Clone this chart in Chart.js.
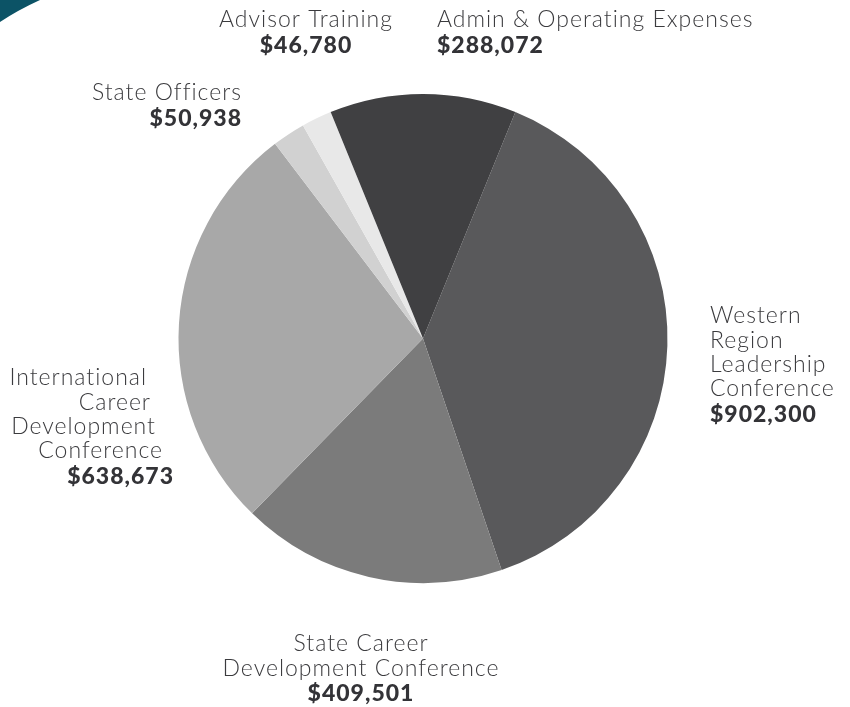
<!DOCTYPE html>
<html>
<head>
<meta charset="utf-8">
<script src="https://cdn.jsdelivr.net/npm/chart.js@4.4.1/dist/chart.umd.min.js"></script>
<style>
  html, body { margin: 0; padding: 0; background: #fff; }
  #wrap { width: 850px; height: 707px; position: relative; }
</style>
</head>
<body>
<div id="wrap"><canvas id="budgetChart" width="850" height="707"></canvas></div>
<script>
// 予算の内訳（時計回り、Western から）
const categories = [
  ['Western', 'Region', 'Leadership', 'Conference'],
  ['State Career', 'Development Conference'],
  ['International', 'Career', 'Development', 'Conference'],
  ['State Officers'],
  ['Advisor Training'],
  ['Admin & Operating Expenses']
];
const amounts = [902300, 409501, 638673, 50938, 46780, 288072];
const sliceColors = ['#59595b', '#7b7b7b', '#a8a8a8', '#d1d1d1', '#e8e8e8', '#404042'];

// ラベル位置 (x, 1行目のy, 揃え, 行ごとのxずれ)
const labelPos = [
  { x: 710, y: 316, align: 'left' },
  { x: 361, y: 644, align: 'center' },
  { x: 174, y: 378, align: 'right', shift: [-27, -23, -18, -11, 0] },
  { x: 242, y: 93, align: 'right' },
  { x: 306, y: 20, align: 'center' },
  { x: 437, y: 20, align: 'left' }
];

const lineH = 24.3;

const labelPlugin = {
  id: 'sliceLabels',
  afterDraw(chart) {
    const ctx = chart.ctx;
    ctx.save();
    ctx.textBaseline = 'middle';
    categories.forEach((lines, i) => {
      const p = labelPos[i];
      ctx.textAlign = p.align;
      let y = p.y;
      ctx.letterSpacing = '1px';
      lines.forEach((t, k) => {
        const dx = p.shift ? p.shift[k] : 0;
        ctx.font = '300 23px Lato';
        ctx.fillStyle = '#3b3b3e';
        ctx.fillText(t, p.x + dx, y);
        y += lineH;
      });
      const dx = p.shift ? p.shift[lines.length] : 0;
      ctx.font = '900 23px Lato';
      ctx.fillStyle = '#333337';
      ctx.fillText('$' + amounts[i].toLocaleString('en-US'), p.x + dx, y + 1);
    });
    ctx.restore();
  }
};

// 左上の青緑の飾り
const cornerPlugin = {
  id: 'corner',
  beforeDraw(chart) {
    const ctx = chart.ctx;
    ctx.save();
    ctx.fillStyle = '#0c5366';
    ctx.beginPath();
    ctx.moveTo(0, 0);
    ctx.lineTo(40, 0);
    ctx.quadraticCurveTo(18, 10, 0, 22);
    ctx.closePath();
    ctx.fill();
    ctx.restore();
  }
};

new Chart(document.getElementById('budgetChart').getContext('2d'), {
  type: 'pie',
  data: {
    labels: categories.map(c => c.join(' ')),
    datasets: [{
      data: amounts,
      backgroundColor: sliceColors,
      borderWidth: 0
    }]
  },
  options: {
    responsive: false,
    animation: false,
    rotation: 22.2,
    layout: { padding: { left: 178, right: 182, top: 94, bottom: 124 } },
    plugins: {
      legend: { display: false },
      tooltip: { enabled: false }
    }
  },
  plugins: [cornerPlugin, labelPlugin]
});
</script>
</body>
</html>
